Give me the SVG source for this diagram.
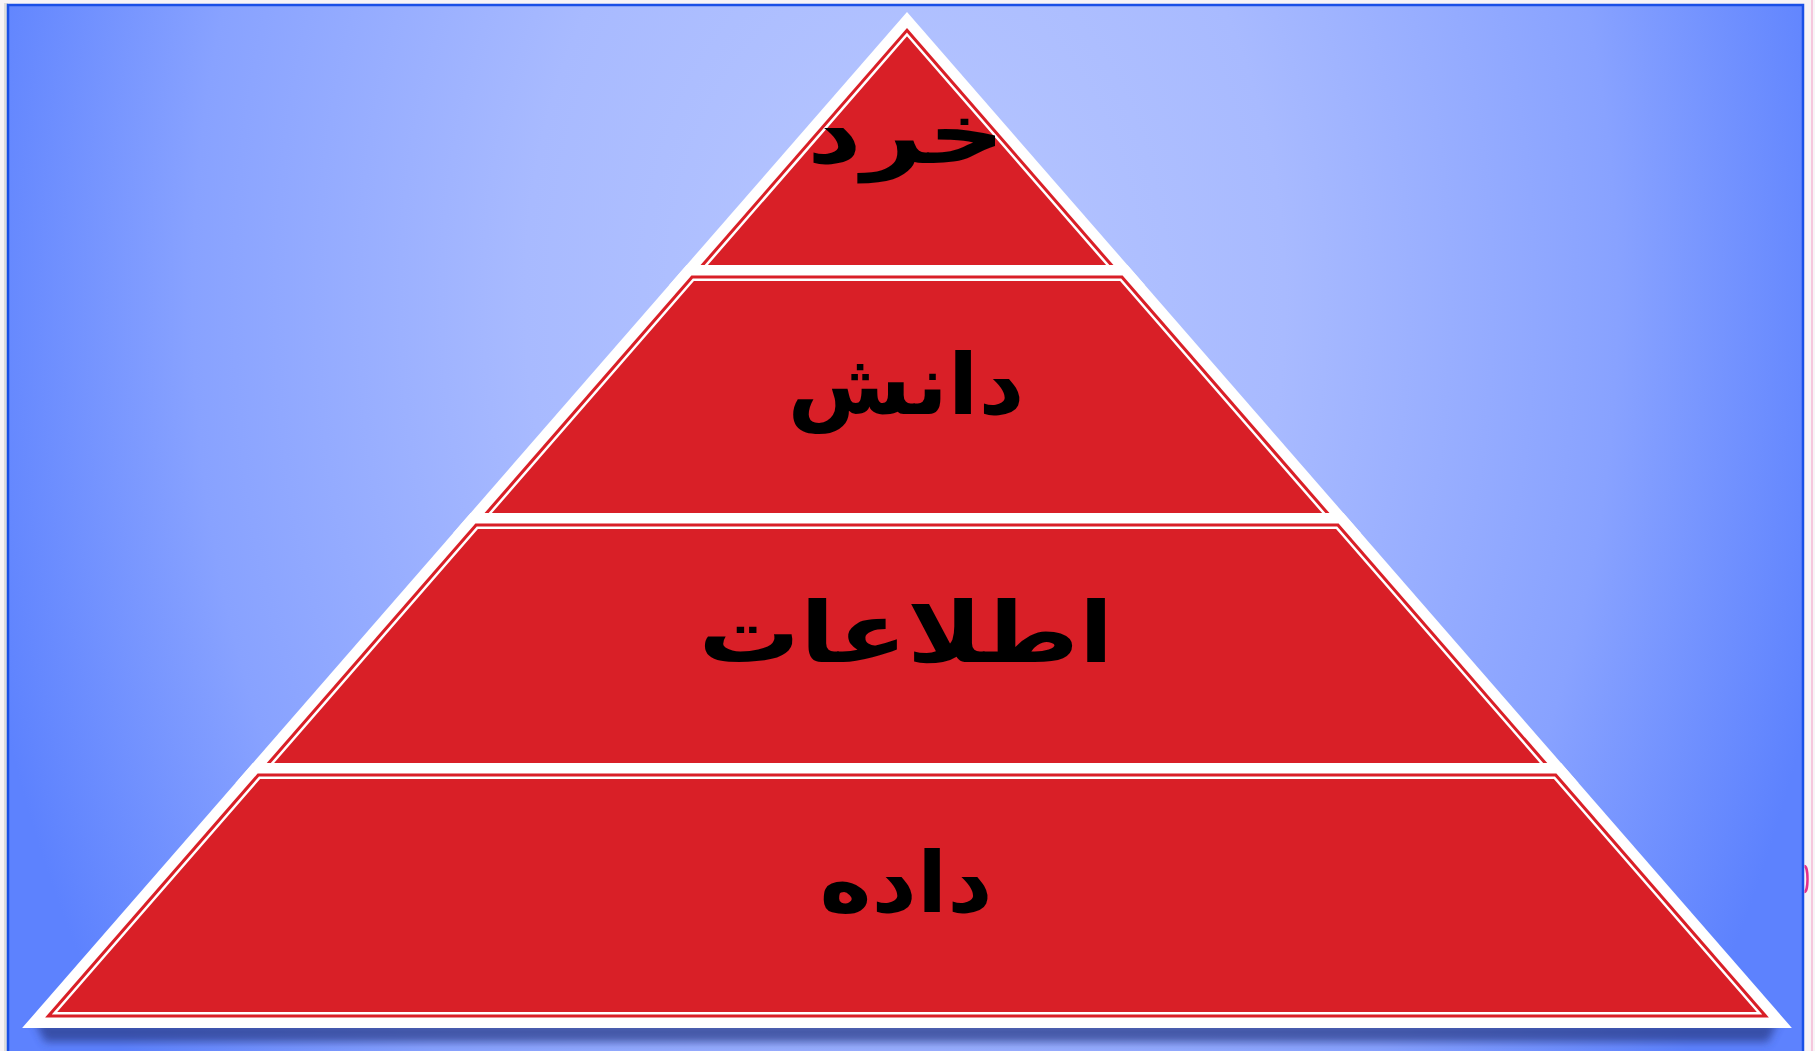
<svg xmlns="http://www.w3.org/2000/svg" width="1815" height="1051" viewBox="0 0 1815 1051">
  <defs>
    <radialGradient id="bgGrad" gradientUnits="userSpaceOnUse" cx="905" cy="300" r="950" gradientTransform="translate(905 300) scale(1 1.4) translate(-905 -300)">
      <stop offset="0" stop-color="#b8c7ff"/>
      <stop offset="0.4" stop-color="#a8baff"/>
      <stop offset="0.75" stop-color="#88a2ff"/>
      <stop offset="1" stop-color="#5d82fe"/>
    </radialGradient>
    <filter id="shadowBlur" x="-10%" y="-100%" width="120%" height="300%">
      <feGaussianBlur stdDeviation="4"/>
    </filter>
    <style>
      .outer { fill: #ffffff; }
      .redline { fill: #d91f27; }
      .fill { fill: #d91f27; stroke: #ffffff; stroke-width: 2.5; stroke-linejoin: miter; }
      .label { font-family: "DejaVu Sans", sans-serif; font-size: 84px; font-weight: bold; fill: #000000; text-anchor: middle; }
    </style>
  </defs>

  <!-- page surroundings -->
  <rect x="0" y="0" width="1815" height="1051" fill="#f7f3f6"/>
  <rect x="4" y="3" width="4" height="1051" fill="#dcdcdc"/>
  <line x1="1812" y1="0" x2="1812" y2="1051" stroke="#f4b8d4" stroke-width="1.5"/>

  <!-- background panel -->
  <g id="background">
    <rect x="8" y="5" width="1795" height="1060" fill="url(#bgGrad)" stroke="#1a4fe6" stroke-width="2.5"/>
    <path d="M1804.5 866 A 3 13 0 0 1 1804.5 892" fill="none" stroke="#e0308a" stroke-width="2.5"/>
  </g>

  <!-- shadow under the base -->
  <polygon points="35,1022 1778,1022 1768,1042 45,1042" fill="#2a3c8c" opacity="0.75" filter="url(#shadowBlur)"/>

  <g id="layer-wisdom">
    <polygon class="outer" points="907,12 1144.8,285 669.2,285"/>
    <polygon class="redline" points="907,28 1121.7,274.5 692.3,274.5"/>
    <polygon class="fill" points="907,34.45 1112.3,270.25 701.7,270.25"/>
  </g>

  <g id="layer-knowledge">
    <polygon class="outer" points="686.6,265 1127.4,265 1360.8,533 453.2,533"/>
    <polygon class="redline" points="691.4,275.5 1122.6,275.5 1337.7,522.5 476.3,522.5"/>
    <polygon class="fill" points="693.4,279.75 1120.6,279.75 1328.3,518.25 485.7,518.25"/>
  </g>

  <g id="layer-information">
    <polygon class="outer" points="470.6,513 1343.4,513 1578.5,783 235.5,783"/>
    <polygon class="redline" points="475.4,523.5 1338.6,523.5 1555.5,772.5 258.5,772.5"/>
    <polygon class="fill" points="477.4,527.75 1336.6,527.75 1546.1,768.25 267.9,768.25"/>
  </g>

  <g id="layer-data">
    <polygon class="outer" points="252.9,763 1561.1,763 1791.9,1028 22.1,1028"/>
    <polygon class="redline" points="257.6,773.5 1556.4,773.5 1768.9,1017.5 45.1,1017.5"/>
    <polygon class="fill" points="259.6,777.75 1554.4,777.75 1759.5,1013.25 54.5,1013.25"/>
  </g>

  <g id="labels">
    <text id="label-wisdom" class="label" x="906" y="163" textLength="198" lengthAdjust="spacingAndGlyphs">خرد</text>
    <text id="label-knowledge" class="label" x="906" y="414" textLength="237" lengthAdjust="spacingAndGlyphs">دانش</text>
    <text id="label-information" class="label" x="906" y="662" textLength="415" lengthAdjust="spacingAndGlyphs">اطلاعات</text>
    <text id="label-data" class="label" x="906" y="912" textLength="173" lengthAdjust="spacingAndGlyphs">داده</text>
  </g>
</svg>
